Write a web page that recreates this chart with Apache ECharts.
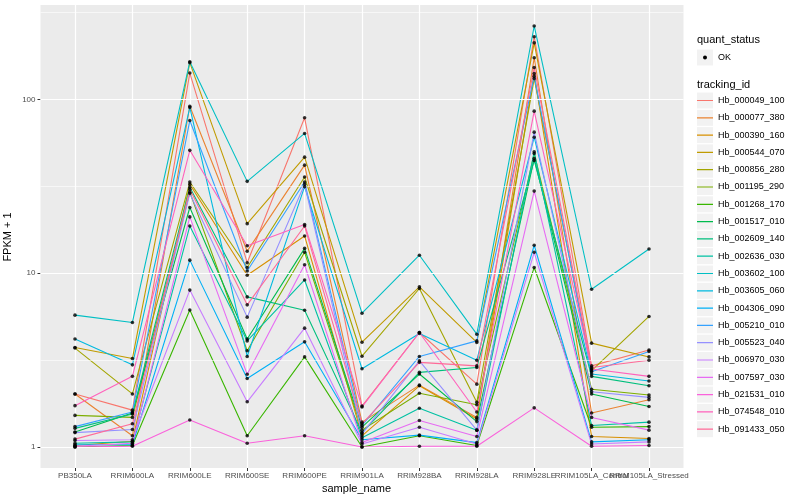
<!DOCTYPE html>
<html><head><meta charset="utf-8">
<script src="https://cdn.jsdelivr.net/npm/echarts@6/dist/echarts.min.js"></script>
<style>html,body{margin:0;padding:0;background:#fff}#c{width:800px;height:500px}</style>
</head><body><div id="c"></div>
<script>
const categories = ['PB350LA','RRIM600LA','RRIM600LE','RRIM600SE','RRIM600PE','RRIM901LA','RRIM928BA','RRIM928LA','RRIM928LE','RRIM105LA_Control','RRIM105LA_Stressed'];
const trackingIds = ['Hb_000049_100','Hb_000077_380','Hb_000390_160','Hb_000544_070','Hb_000856_280','Hb_001195_290','Hb_001268_170','Hb_001517_010','Hb_002609_140','Hb_002636_030','Hb_003602_100','Hb_003605_060','Hb_004306_090','Hb_005210_010','Hb_005523_040','Hb_006970_030','Hb_007597_030','Hb_021531_010','Hb_074548_010','Hb_091433_050'];
const colors = ['#F8766D','#EA8331','#D89000','#C09B00','#A3A500','#7CAE00','#39B600','#00BB4E','#00BF7D','#00C1A3','#00BFC4','#00BAE0','#00B0F6','#35A2FF','#9590FF','#C77CFF','#E76BF3','#FA62DB','#FF62BC','#FF6A98'];
const yTicks = [1, 10, 100];
const yMinorTicks = [3.162, 31.62, 316.2];

const hb_000049_100 = [2.02, 1.63, 142, 11.5, 78.5, 1.72, 4.56, 2.30, 230, 2.93, 3.62];
const hb_000077_380 = [2.02, 1.16, 91.5, 13.4, 41.9, 1.39, 2.27, 1.48, 174, 1.57, 1.87];
const hb_000390_160 = [1.02, 1.08, 32.5, 9.74, 16.4, 1.16, 2.25, 1.45, 141, 1.15, 1.12];
const hb_000544_070 = [3.74, 3.23, 163, 19.3, 46.6, 4.01, 8.35, 4.00, 212, 3.96, 3.30];
const hb_000856_280 = [3.71, 2.02, 33.5, 10.8, 35.8, 3.33, 8.17, 1.81, 132, 2.75, 5.64];
const hb_001195_290 = [1.52, 1.48, 29.3, 3.58, 13.2, 1.25, 2.04, 1.75, 48.9, 2.15, 1.99];
const hb_001268_170 = [1.00, 1.02, 6.15, 1.16, 3.30, 1.00, 1.16, 1.02, 10.8, 1.30, 1.31];
const hb_001517_010 = [1.22, 1.57, 23.9, 4.18, 13.9, 1.30, 2.63, 1.40, 45.8, 2.02, 1.71];
const hb_002609_140 = [1.28, 1.55, 31.3, 7.31, 6.13, 1.21, 2.69, 2.87, 44.6, 2.55, 2.25];
const hb_002636_030 = [1.05, 1.07, 18.7, 4.08, 9.15, 1.13, 1.67, 1.25, 50.0, 1.33, 1.39];
const hb_003602_100 = [5.74, 5.21, 165, 33.8, 63.8, 5.89, 12.7, 4.46, 265, 8.09, 13.8];
const hb_003605_060 = [4.18, 2.97, 90.0, 3.32, 31.5, 2.82, 4.50, 3.16, 60.7, 2.63, 2.40];
const hb_004306_090 = [1.03, 1.03, 11.9, 2.48, 4.03, 1.10, 1.17, 1.06, 14.5, 1.07, 1.10];
const hb_005210_010 = [1.31, 1.59, 75.7, 10.3, 33.5, 1.33, 3.32, 4.08, 136, 2.71, 3.55];
const hb_005523_040 = [1.21, 1.26, 28.8, 5.59, 32.5, 1.19, 3.13, 1.25, 64.9, 2.08, 1.93];
const hb_006970_030 = [1.09, 1.10, 8.0, 1.82, 4.83, 1.04, 1.30, 1.04, 13.2, 1.04, 1.07];
const hb_007597_030 = [1.01, 1.05, 21.1, 2.62, 11.2, 1.06, 1.42, 1.15, 29.7, 1.48, 1.25];
const hb_021531_010 = [1.00, 1.01, 1.43, 1.05, 1.16, 1.00, 1.01, 1.01, 1.68, 1.01, 1.02];
const hb_074548_010 = [1.73, 2.55, 51.0, 14.4, 19.1, 1.70, 4.56, 1.59, 85.7, 2.81, 2.55];
const hb_091433_050 = [1.11, 1.36, 30.4, 6.58, 18.7, 1.36, 3.07, 2.93, 153, 2.87, 3.16];

const seriesValues = [hb_000049_100, hb_000077_380, hb_000390_160, hb_000544_070, hb_000856_280,
  hb_001195_290, hb_001268_170, hb_001517_010, hb_002609_140, hb_002636_030,
  hb_003602_100, hb_003605_060, hb_004306_090, hb_005210_010, hb_005523_040,
  hb_006970_030, hb_007597_030, hb_021531_010, hb_074548_010, hb_091433_050];

const FONT = 'Liberation Sans';
const Y_MIN = 0.757, Y_MAX = 350;

const chart = echarts.init(document.getElementById('c'), null, {renderer: 'canvas'});

const series = [];
// panel grid lines (horizontal) spanning the full panel
series.push({
  type: 'line', xAxisIndex: 0, yAxisIndex: 0, data: [[0, 1]], silent: true, z: 1,
  showSymbol: false, symbol: 'none', lineStyle: {width: 0, opacity: 0},
  markLine: {
    silent: true, symbol: ['none', 'none'], label: {show: false}, animation: false,
    data: yTicks.map(v => ({yAxis: v, lineStyle: {color: '#FFFFFF', width: 1.2, type: 'solid'}}))
      .concat(yMinorTicks.map(v => ({yAxis: v, lineStyle: {color: '#FFFFFF', width: 0.6, type: 'solid'}})))
  }
});
trackingIds.forEach((id, i) => {
  series.push({
    name: id, type: 'line', xAxisIndex: 1, yAxisIndex: 1,
    data: seriesValues[i], showSymbol: false, symbol: 'none', z: 3,
    lineStyle: {color: colors[i], width: 1.1},
    itemStyle: {color: colors[i]},
    emphasis: {disabled: true}, animation: false
  });
});
const pts = [];
seriesValues.forEach(arr => arr.forEach((v, j) => pts.push([j, v])));
series.push({
  name: 'OK', type: 'scatter', xAxisIndex: 1, yAxisIndex: 1, data: pts,
  symbol: 'circle', symbolSize: 3.6, itemStyle: {color: '#000000'}, z: 5, animation: false
});

const iconLine = 'path://M0,0 L0.01,0 L0,0.01 Z M16,16 L15.99,16 L16,15.99 Z M0,7.4 L16,7.4 L16,8.6 L0,8.6 Z';

const option = {
  backgroundColor: '#FFFFFF',
  animation: false,
  textStyle: {fontFamily: FONT},
  grid: [
    {left: 40.5, right: 116.5, top: 5, bottom: 32},
    {left: 75, right: 151, top: 5, bottom: 32}
  ],
  xAxis: [
    {type: 'value', gridIndex: 0, min: 0, max: 1, show: false},
    {type: 'category', gridIndex: 1, data: categories, boundaryGap: false,
     axisLine: {show: false},
     axisTick: {show: true, length: 3, lineStyle: {color: '#333333', width: 1}},
     axisLabel: {interval: 0, hideOverlap: false, fontSize: 8, color: '#4D4D4D', margin: 4, fontFamily: FONT},
     splitLine: {show: true, lineStyle: {color: '#FFFFFF', width: 1.2}}}
  ],
  yAxis: [
    {type: 'log', logBase: 10, gridIndex: 0, min: Y_MIN, max: Y_MAX,
     axisLine: {show: false},
     axisTick: {show: true, length: 3, customValues: yTicks, lineStyle: {color: '#333333', width: 1}},
     axisLabel: {fontSize: 8, color: '#4D4D4D', margin: 5, customValues: yTicks, fontFamily: FONT},
     splitLine: {show: false}},
    {type: 'log', logBase: 10, gridIndex: 1, min: Y_MIN, max: Y_MAX, show: false, splitLine: {show: false}}
  ],
  legend: [
    {orient: 'vertical', left: 697, top: 92.5, itemWidth: 16, itemHeight: 16, itemGap: 1.3, padding: 0,
     selectedMode: false, z: 1,
     textStyle: {fontSize: 9, color: 'rgba(0,0,0,0)', fontFamily: FONT},
     data: trackingIds.map(n => ({name: n, icon: 'rect', itemStyle: {color: '#F2F2F2'}}))},
    {orient: 'vertical', left: 697, top: 92.5, itemWidth: 16, itemHeight: 16, itemGap: 1.3, padding: 0,
     selectedMode: false, z: 2,
     textStyle: {fontSize: 9, color: '#000000', fontFamily: FONT},
     data: trackingIds.map((n, i) => ({name: n, icon: iconLine, itemStyle: {color: colors[i]}}))}
  ],
  graphic: [
    {type: 'rect', z: -100, shape: {x: 40.5, y: 5, width: 643, height: 463}, style: {fill: '#EBEBEB'}, silent: true},
    {type: 'text', left: 322, top: 483, style: {text: 'sample_name', fontSize: 11, fill: '#000000', fontFamily: FONT}},
    {type: 'text', x: 8, y: 237, rotation: Math.PI / 2, style: {text: 'FPKM + 1', fontSize: 11, fill: '#000000', fontFamily: FONT, align: 'center', verticalAlign: 'middle'}},
    {type: 'text', left: 697, top: 34, style: {text: 'quant_status', fontSize: 11, fill: '#000000', fontFamily: FONT}},
    {type: 'rect', shape: {x: 697, y: 49.5, width: 16, height: 16}, style: {fill: '#F2F2F2'}},
    {type: 'circle', shape: {cx: 705, cy: 57.5, r: 2}, style: {fill: '#000000'}},
    {type: 'text', x: 718, y: 57.5, style: {text: 'OK', fontSize: 9, fill: '#000000', fontFamily: FONT, verticalAlign: 'middle'}},
    {type: 'text', left: 697, top: 79, style: {text: 'tracking_id', fontSize: 11, fill: '#000000', fontFamily: FONT}}
  ],
  series: series
};
chart.setOption(option);
</script>
</body></html>
